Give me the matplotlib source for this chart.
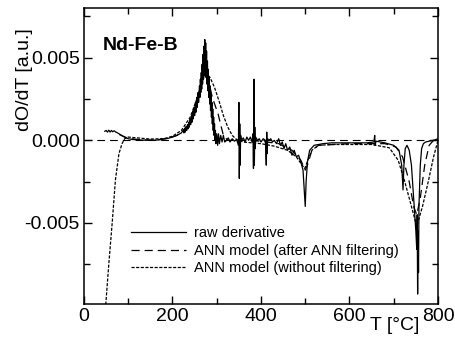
import numpy as np
import matplotlib
matplotlib.use("Agg")
import matplotlib.pyplot as plt
from matplotlib.ticker import MultipleLocator

plt.rcParams['font.family'] = ['Liberation Sans', 'DejaVu Sans']

# raw derivative (T in degC, value in 1e-3 a.u.)
raw_T = [47, 50, 53, 56, 59, 62, 65, 68, 72, 76, 80, 85, 90, 95, 100, 110, 130, 150, 170, 190,
         200, 210, 220, 225, 226, 228, 229, 231, 232, 234, 235, 237, 238, 240, 241, 243, 244,
         246, 247, 249, 250, 252, 253, 255, 256, 258, 259, 261, 262, 263, 264,
         265, 266, 267, 268, 269, 270, 271, 272, 273, 274, 275, 276, 277, 278, 279, 280, 281,
         282, 283, 284, 285, 286, 287, 288, 289, 290, 291, 292, 293, 294, 295, 296, 297, 298,
         300, 302, 304, 306, 309, 312, 315, 318, 322, 326, 330,
         335, 340, 345, 349, 350, 351, 352, 353, 354, 356, 360, 364, 368, 372, 376, 380, 382,
         383, 384, 385, 386, 387, 388, 392, 396, 400, 405, 410, 412, 413, 414, 415, 418, 422,
         426, 430, 435, 440, 444, 448, 452, 456, 460, 465, 470, 475, 480, 485, 490, 495, 500,
         502, 505, 510, 520, 540, 560, 600, 640, 655, 657, 658, 660, 680, 700, 712, 718, 721,
         723, 726, 730, 735, 740, 745, 750, 752, 753, 754, 755, 756, 757, 760, 763, 767, 772,
         780, 790, 800]
raw_v = [0.55, 0.6, 0.5, 0.62, 0.5, 0.6, 0.52, 0.58, 0.5, 0.45, 0.38, 0.3, 0.22, 0.15, 0.1, 0.05,
         0.02, 0.0, 0.03, 0.12, 0.2, 0.3, 0.45, 0.65, 0.45, 0.75, 0.5, 0.85, 0.6, 0.95, 0.7,
         1.1, 0.8, 1.3, 0.95, 1.5, 1.1, 1.75, 1.3, 2.0, 1.5, 2.3, 1.7, 2.6, 2.0, 2.9, 2.3,
         3.3, 2.6, 3.7, 2.9,
         4.1, 3.1, 4.6, 3.4, 5.2, 3.7, 5.7, 3.9, 6.1, 4.0, 5.9, 3.8, 5.4, 3.4, 4.8, 3.0, 4.3,
         2.6, 3.8, 2.2, 3.3, 1.8, 2.8, 1.4, 2.3, 1.0, 1.9, 0.6, 1.4, 0.3, 1.0, 0.0, 0.6, -0.2,
         0.4, -0.3, 0.4, -0.2, 0.3, -0.1, 0.3, -0.1,
         0.0, 0.15, -0.1, 0.1, -0.05, 0.05, -0.3, 2.3, -2.3, 1.0, -1.5, 0.3, 0.0, 0.15, -0.1, 0.2,
         0.0, 0.2, -0.1, 0.4, -1.7, 3.7, -1.5, 0.8, -0.5, 0.2, 0.0, 0.1, -0.1, 0.1, 0.0, -1.5, 0.5,
         -0.8, 0.1, 0.0, 0.1, -0.1, 0.0, -0.2, 0.1, -0.3, -0.1, -0.5, -0.2, -0.6, -0.4, -0.9, -0.6,
         -1.0, -0.9, -1.3, -1.8, -4.0, -2.5, -1.3, -0.6, -0.3, -0.2, -0.15, -0.15, -0.15, -0.1, 0.3,
         -0.3, -0.05, -0.15, -0.3, -0.6, -1.5, -3.0, -1.5, -0.5, -0.3, -0.6, -1.5, -3.5, -5.5, -6.6,
         -4.5, -9.3, -5.5, -8.0, -4.0, -1.5, -0.5, -0.2, -0.1, -0.05, 0.0, 0.1]

# ANN model after ANN filtering
ann_f_T = [80, 100, 130, 160, 190, 210, 230, 245, 255, 262, 268, 273, 280, 290, 303, 315, 325,
           360, 400, 440, 470, 490, 500, 505, 515, 530, 600, 680, 705, 720, 735, 745, 752, 760,
           770, 780, 790, 800]
ann_f_v = [0.35, 0.12, 0.03, 0.02, 0.12, 0.3, 0.7, 1.3, 2.1, 3.0, 3.8, 4.0, 3.8, 2.6, 1.6, 0.3,
           0.0, 0.0, -0.05, -0.2, -0.6, -1.2, -1.8, -1.5, -0.6, -0.3, -0.2, -0.2, -0.4, -1.0,
           -2.5, -4.0, -4.5, -3.5, -1.5, -0.3, 0.0, 0.05]

# ANN model without filtering
ann_nf_T = [47, 49, 56, 64, 71, 79, 86, 92, 100, 120, 150, 180, 200, 220, 240, 255, 265, 272,
            278, 285, 295, 305, 315, 325, 335, 345, 360, 400, 430, 460, 480, 493, 499, 506, 515,
            530, 560, 650, 690, 710, 725, 740, 752, 765, 778, 790, 800]
ann_nf_v = [-10.5, -10.0, -7.5, -4.9, -2.4, -0.8, -0.2, 0.1, 0.2, 0.15, 0.08, 0.1, 0.25, 0.6,
            1.4, 2.5, 3.4, 3.9, 4.0, 3.8, 3.2, 2.4, 1.5, 0.8, 0.3, 0.05, -0.1, -0.2, -0.35, -0.6,
            -1.0, -1.5, -1.7, -1.2, -0.6, -0.3, -0.25, -0.25, -0.45, -1.2, -2.5, -4.0, -5.2, -4.0,
            -2.5, -1.0, 0.0]

fig = plt.figure(figsize=(4.55, 3.4), dpi=100)
ax = fig.add_axes([0.1846, 0.106, 0.778, 0.870])

ax.axhline(0, color="black", lw=0.8, dashes=(7, 4.5))
ax.plot(raw_T, np.array(raw_v) * 1e-3, color="black", lw=0.9, label="raw derivative")
ax.plot(ann_f_T, np.array(ann_f_v) * 1e-3, color="black", lw=0.9, dashes=(6.5, 4),
        label="ANN model (after ANN filtering)")
ax.plot(ann_nf_T, np.array(ann_nf_v) * 1e-3, color="black", lw=0.9, dashes=(2.5, 1.2),
        label="ANN model (without filtering)")

ax.set_xlim(0, 800)
ax.set_ylim(-0.0099, 0.008)
ax.xaxis.set_major_locator(MultipleLocator(200))
ax.xaxis.set_minor_locator(MultipleLocator(100))
ax.yaxis.set_major_locator(MultipleLocator(0.005))
ax.yaxis.set_minor_locator(MultipleLocator(0.0025))
ax.yaxis.set_major_formatter(plt.FuncFormatter(lambda v, p: f"{v:.3f}"))
ax.tick_params(which="both", direction="in", top=True, right=True, labelsize=14, width=1)
ax.tick_params(which="major", length=6, pad=3)
ax.tick_params(which="minor", length=4)
for s in ax.spines.values():
    s.set_linewidth(1.1)

ax.set_xlabel("T [°C]", fontsize=14)
ax.xaxis.set_label_coords(0.879, -0.043)
ax.set_ylabel("dO/dT [a.u.]", fontsize=14)
ax.yaxis.set_label_coords(-0.144, 0.757)

ax.text(0.054, 0.875, "Nd-Fe-B", transform=ax.transAxes, fontsize=14,
        fontweight="bold", va="center")

ax.legend(loc="upper left", bbox_to_anchor=(0.116, 0.283), frameon=False, fontsize=10.5,
          handlelength=3.8, handletextpad=0.5, labelspacing=0.25, borderaxespad=0)

fig.savefig("out.png", dpi=100)
